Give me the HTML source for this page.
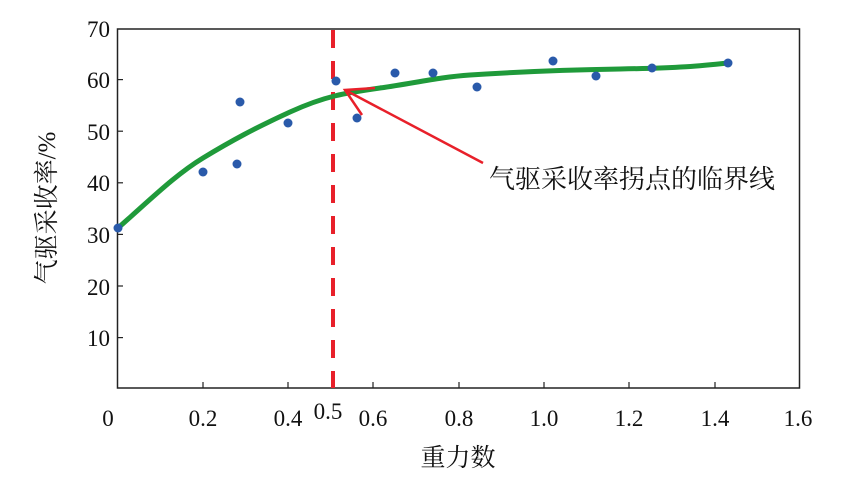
<!DOCTYPE html>
<html><head><meta charset="utf-8"><style>
body{margin:0;background:#fff;}
svg text{font-family:"Liberation Serif","Noto Serif CJK SC",serif;fill:#111;}
</style></head><body>
<svg width="853" height="476" xmlns="http://www.w3.org/2000/svg">
<rect x="117.5" y="29" width="682" height="359" fill="none" stroke="#222" stroke-width="1.5"/>
<g stroke="#222" stroke-width="1.2">
<line x1="203" y1="388" x2="203" y2="382"/><line x1="288" y1="388" x2="288" y2="382"/>
<line x1="373" y1="388" x2="373" y2="382"/><line x1="459" y1="388" x2="459" y2="382"/>
<line x1="544" y1="388" x2="544" y2="382"/><line x1="629" y1="388" x2="629" y2="382"/>
<line x1="715" y1="388" x2="715" y2="382"/>
<line x1="117" y1="79.6" x2="123" y2="79.6"/><line x1="117" y1="131.2" x2="123" y2="131.2"/>
<line x1="117" y1="182.8" x2="123" y2="182.8"/><line x1="117" y1="234.4" x2="123" y2="234.4"/>
<line x1="117" y1="286" x2="123" y2="286"/><line x1="117" y1="337.6" x2="123" y2="337.6"/>
</g>
<g font-size="23" text-anchor="end">
<text x="110" y="37">70</text><text x="110" y="88">60</text><text x="110" y="140">50</text>
<text x="110" y="191">40</text><text x="110" y="243">30</text><text x="110" y="295">20</text>
<text x="110" y="346">10</text>
</g>
<g font-size="23" text-anchor="middle">
<text x="108" y="426">0</text><text x="203" y="426">0.2</text><text x="288" y="426">0.4</text>
<text x="328" y="419">0.5</text>
<text x="373" y="426">0.6</text><text x="459" y="426">0.8</text><text x="544" y="426">1.0</text>
<text x="629" y="426">1.2</text><text x="715" y="426">1.4</text><text x="798" y="426">1.6</text>
</g>
<text x="458" y="466" font-size="25" text-anchor="middle">重力数</text>
<text transform="translate(55,208) rotate(-90)" font-size="25" text-anchor="middle">气驱采收率/%</text>
<line x1="333" y1="30" x2="333" y2="388" stroke="#e8202a" stroke-width="4" stroke-dasharray="18,13"/>
<path d="M118,228 C150,200 175,175 203,158 S255,128 290,112 S345,93 380,88 S440,77 470,75 S560,70 620,69 S700,66 728,63" fill="none" stroke="#1f9a3a" stroke-width="5"/>
<g fill="#2a5aaa">
<circle cx="118" cy="228" r="4.5"/><circle cx="203" cy="172" r="4.5"/><circle cx="237" cy="164" r="4.5"/>
<circle cx="240" cy="102" r="4.5"/><circle cx="288" cy="123" r="4.5"/><circle cx="336" cy="81" r="4.5"/>
<circle cx="357" cy="118" r="4.5"/><circle cx="395" cy="73" r="4.5"/><circle cx="433" cy="73" r="4.5"/>
<circle cx="477" cy="87" r="4.5"/><circle cx="553" cy="61" r="4.5"/><circle cx="596" cy="76" r="4.5"/>
<circle cx="652" cy="68" r="4.5"/><circle cx="728" cy="63" r="4.5"/>
</g>
<g stroke="#e8202a" stroke-width="2.5" fill="none">
<line x1="483" y1="163" x2="347" y2="91"/>
<polyline points="375,88 345,90 362,115"/>
</g>
<text x="489" y="188" font-size="26">气驱采收率拐点的临界线</text>
</svg>
</body></html>
